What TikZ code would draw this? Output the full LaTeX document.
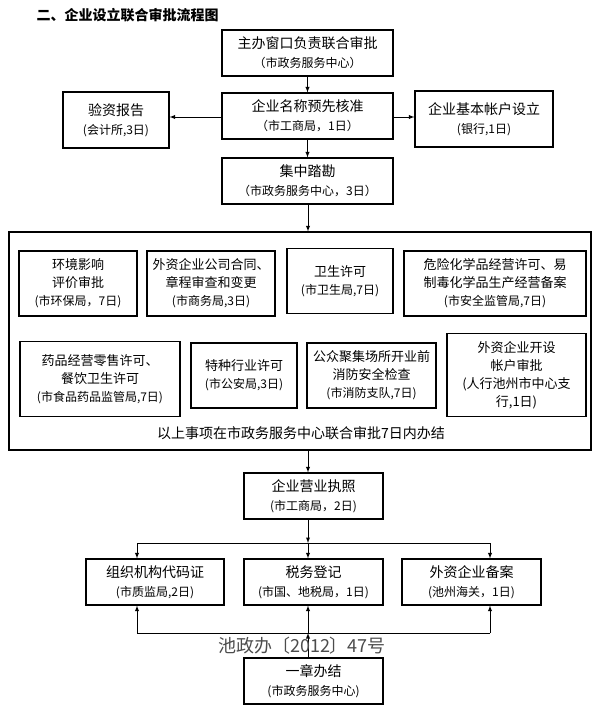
\documentclass[tikz,border=0pt]{standalone}
\usepackage{fontspec}
\setmainfont{Noto Sans CJK SC}
\usepackage{tikz}
\usetikzlibrary{arrows,positioning}
\newcommand{\sm}{\fontsize{12pt}{18pt}\selectfont}
\begin{document}
\begin{tikzpicture}[x=1pt,y=-1pt,
  box/.style={draw,line width=1.1pt,align=center,inner sep=0pt,
    font=\fontsize{14pt}{19pt}\selectfont},
  inbox/.style={box,font=\fontsize{13pt}{18pt}\selectfont},
  arr/.style={-latex,line width=0.9pt}]

\useasboundingbox (0,0) rectangle (600,719);

\node[anchor=west,font=\fontsize{14pt}{16pt}\selectfont\bfseries] (0) at (33,15){二、企业设立联合审批流程图};

\node[box,minimum width=171pt,minimum height=46pt] (1) at (307.5,53){主办窗口负责联合审批\\{\sm（市政务服务中心）}};
\node[box,minimum width=171pt,minimum height=46pt] (2) at (307.5,116){企业名称预先核准\\{\sm（市工商局，1日）}};
\node[box,minimum width=106pt,minimum height=56pt] (3) at (116,120){验资报告\\{\sm(会计所,3日)}};
\node[box,minimum width=138pt,minimum height=56pt] (4) at (484,119){企业基本帐户设立\\{\sm(银行,1日)}};
\node[box,minimum width=171pt,minimum height=46pt] (5) at (307.5,181){集中踏勘\\{\sm（市政务服务中心，3日）}};

\node[draw,line width=1.1pt,minimum width=582pt,minimum height=218pt,inner sep=0pt] (6) at (300,341){};
\node[inbox,minimum width=118pt,minimum height=65pt] (7) at (78,283.5){环境影响\\评价审批\\{\sm(市环保局，7日)}};
\node[inbox,minimum width=128pt,minimum height=65pt] (8) at (211,283.5){外资企业公司合同、\\章程审查和变更\\{\sm(市商务局,3日)}};
\node[inbox,minimum width=106pt,minimum height=65pt] (9) at (340,281){卫生许可\\{\sm(市卫生局,7日)}};
\node[inbox,minimum width=182pt,minimum height=65pt] (10) at (495,283.5){危险化学品经营许可、易\\制毒化学品生产经营备案\\{\sm(市安全监管局,7日)}};
\node[inbox,minimum width=160pt,minimum height=75pt] (11) at (100,379){药品经营零售许可、\\餐饮卫生许可\\{\sm(市食品药品监管局,7日)}};
\node[inbox,minimum width=106pt,minimum height=65pt] (12) at (244,375.5){特种行业许可\\{\sm(市公安局,3日)}};
\node[inbox,minimum width=129pt,minimum height=65pt] (13) at (371.5,375.5){公众聚集场所开业前\\消防安全检查\\{\sm(市消防支队,7日)}};
\node[inbox,minimum width=139pt,minimum height=83pt] (14) at (516.5,375){外资企业开设\\帐户审批\\(人行池州市中心支\\行,1日)};
\node[font=\fontsize{14pt}{16pt}\selectfont] (15) at (301,433){以上事项在市政务服务中心联合审批7日内办结};

\node[box,minimum width=139pt,minimum height=46pt] (16) at (313.5,496){企业营业执照\\{\sm(市工商局，2日)}};
\node[box,minimum width=138pt,minimum height=46pt] (17) at (155,582){组织机构代码证\\{\sm(市质监局,2日)}};
\node[box,minimum width=139pt,minimum height=46pt] (18) at (313.5,582){税务登记\\{\sm(市国、地税局，1日)}};
\node[box,minimum width=139pt,minimum height=46pt] (19) at (471.5,582){外资企业备案\\{\sm(池州海关，1日)}};
\node[box,minimum width=139pt,minimum height=46pt] (20) at (313.5,681){一章办结\\{\sm(市政务服务中心)}};

\coordinate (a) at (308,543);
\coordinate (b) at (137,543);
\coordinate (c) at (490,543);
\coordinate (d) at (308,633);
\coordinate (e) at (137,633);
\coordinate (f) at (490,633);

\draw[arr] (1) -- (2);
\draw[arr] (2.west |- 0,117) -- (3.east |- 0,117);
\draw[arr] (2.east |- 0,117) -- (4.west |- 0,117);
\draw[arr] (2) -- (5);
\draw[arr] (5.south -| a) -- (6.north -| a);
\draw[arr] (6.south -| a) -- (16.north -| a);
\draw[arr] (16.south -| a) -- (a);
\draw (b) -- (c);
\draw[arr] (a) -- (18.north -| a);
\draw[arr] (b) -- (17.north -| b);
\draw[arr] (c) -- (19.north -| c);
\draw (e) -- (f);
\draw[arr] (20.north -| d) -- (d);
\draw[arr] (d) -- (18.south -| d);
\draw[arr] (e) -- (17.south -| e);
\draw[arr] (f) -- (19.south -| f);

\node[text=black!70,font=\fontsize{18pt}{20pt}\selectfont] (21) at (302,646){池政办〔2012〕47号};

\end{tikzpicture}
\end{document}
